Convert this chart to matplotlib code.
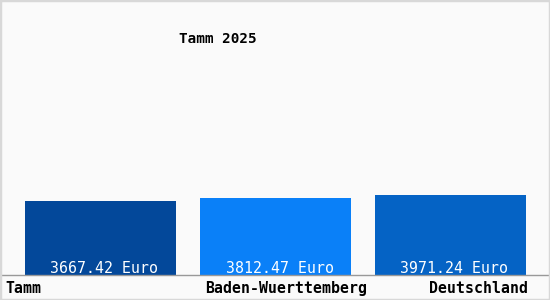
import matplotlib
matplotlib.use("Agg")
import matplotlib.pyplot as plt
from matplotlib.patches import Rectangle

# Data
regions = ["Tamm", "Baden-Wuerttemberg", "Deutschland"]
values = [3667.42, 3812.47, 3971.24]
bar_colors = ["#03489a", "#0a80f8", "#0563c5"]
title = "Tamm 2025"

W, H = 550, 300
fig = plt.figure(figsize=(W / 100, H / 100), dpi=100, facecolor="#fafafa")
fig.patches.append(Rectangle((0, 0), 1, 1, transform=fig.transFigure,
                             fill=False, edgecolor="#d8d8d8", linewidth=2.5))

# axes: full width, bottom at the baseline line (y=275 px from top)
ax = fig.add_axes([0, 25 / H, 1, 1 - 25 / H])
ax.set_facecolor("#fafafa")

px_per_unit = 175.0
ymax = 13640
x = list(range(len(values)))
ax.bar(x, values, width=151 / px_per_unit, color=bar_colors, align="center", zorder=2)
ax.set_xlim(-100.5 / px_per_unit, 2 + (W - 450.5) / px_per_unit)
ax.set_ylim(0, ymax)

for s in ["top", "right", "left"]:
    ax.spines[s].set_visible(False)
ax.spines["bottom"].set_color("#999999")
ax.spines["bottom"].set_linewidth(1)
ax.set_yticks([])
ax.set_xticks([])

mono = "DejaVu Sans Mono"
y_per_px = ymax / 275
for xi, v in zip(x, values):
    ax.text(xi + 4 / px_per_unit, 2 * y_per_px, f"{v:.2f} Euro", ha="center",
            va="baseline", color="white", fontsize=10.7, family=mono, zorder=3)

# category labels under the baseline
lab_y = 1 - 293 / H
fig.text(5 / W, lab_y, regions[0], ha="left", va="baseline",
         fontsize=10.7, family=mono, fontweight="bold")
fig.text(205 / W, lab_y, regions[1], ha="left", va="baseline",
         fontsize=10.7, family=mono, fontweight="bold")
fig.text(528 / W, lab_y, regions[2], ha="right", va="baseline",
         fontsize=10.7, family=mono, fontweight="bold")

fig.text(218 / W, 1 - 43 / H, title, ha="center", va="baseline",
         fontsize=10.3, family=mono, fontweight="bold")

fig.savefig("out.png", dpi=100, facecolor=fig.get_facecolor())
